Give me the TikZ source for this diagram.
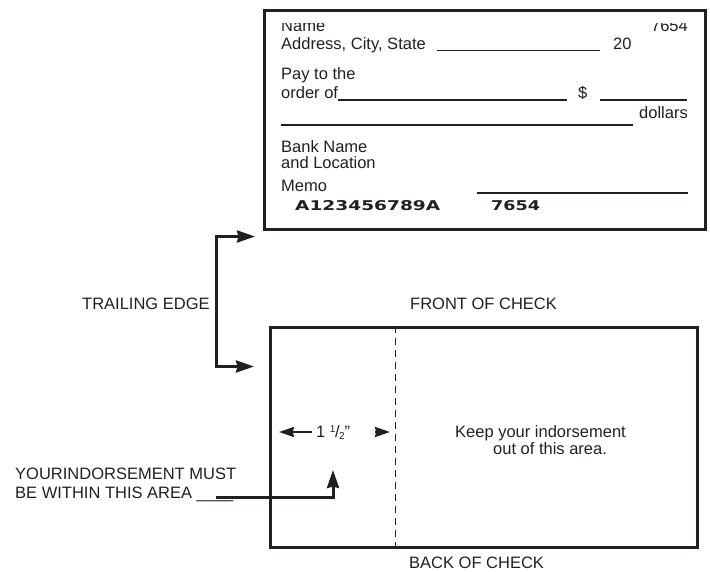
\documentclass[tikz,border=0pt]{standalone}
\usepackage{fontspec}
\setmainfont{Liberation Sans}
\newfontfamily\micrfont{DejaVu Sans}
\usetikzlibrary{arrows.meta}
\definecolor{ink}{HTML}{231F20}
\begin{document}
\begin{tikzpicture}[x=1pt,y=-1pt,
  txt/.style={inner sep=0pt, font=\fontsize{16.5}{18}\selectfont, text=ink},
  micr/.style={inner sep=0pt, text=ink, anchor=base west},
  checkbox/.style={draw=ink, line width=3pt, inner sep=0pt},
  rulerline/.style={draw=ink, line width=1.8pt},
  foldline/.style={draw=ink, line width=1.2pt, dash pattern=on 7pt off 5pt},
  bigtip/.tip={Stealth[length=18pt,width=12pt,inset=1.5pt]},
  smalltip/.tip={Stealth[length=15pt,width=10pt,inset=1.2pt]},
  conn/.style={draw=ink, line width=3pt, -bigtip},
  bothconn/.style={draw=ink, line width=3pt, bigtip-bigtip},
  dimarrow/.style={draw=ink, line width=2.2pt, -smalltip},
]
\useasboundingbox (0,0) rectangle (710,572);

% ---------- front of check ----------
\node[checkbox, minimum width=441pt, minimum height=219pt] (front) at (484.5,120.5) {};
\begin{scope}
  \clip (270,23.5) rectangle (700,45);
  \node[txt, anchor=base west] (name) at (281,31.7) {Name};
  \node[txt, anchor=base east] (num) at (688,31.7) {7654};
\end{scope}
\node[txt, anchor=base west] (addr) at (281,49.3) {Address, City, State};
\draw[rulerline] (437,50.5) -- (600,50.5);
\node[txt, anchor=base west] (year) at (613,49.3) {20};
\node[txt, anchor=base west] (pay) at (281,80) {Pay to the};
\node[txt, anchor=base west] (order) at (281,99) {order of};
\draw[rulerline] (order.base east) ++(0,1.2) -- (567,100.2);
\node[txt, anchor=base west] (dollar) at (578,99) {\$};
\draw[rulerline] (600,100.2) -- (687,100.2);
\node[txt, anchor=base east] (dollars) at (688,119) {dollars};
\draw[rulerline] (281,125) -- (633,125);
\node[txt, anchor=base west] (bank) at (281,152.7) {Bank Name};
\node[txt, anchor=base west] (loc) at (281,168.3) {and Location};
\node[txt, anchor=base west] (memo) at (281,191.7) {Memo};
\draw[rulerline] (477,193) -- (688,193);
\node[micr] (routing) at (295,210.7) {\resizebox{145pt}{10pt}{\micrfont\bfseries A123456789A}};
\node[micr] (checkno) at (491,210.7) {\resizebox{49pt}{10pt}{\micrfont\bfseries 7654}};

% ---------- labels between ----------
\node[txt, anchor=base west] (trailing) at (82,309) {TRAILING EDGE};
\node[txt, anchor=base west] (frontlbl) at (410,309) {FRONT OF CHECK};

\coordinate (t1) at (255,236.5);
\coordinate (t2) at (254,366.5);
\coordinate (tb) at (216,300);
\draw[bothconn] (t1) -| (tb) |- (t2);

% ---------- back of check ----------
\node[checkbox, minimum width=427pt, minimum height=220pt] (back) at (483.5,437) {};
\draw[foldline] ([xshift=127pt]back.north west) -- ([xshift=127pt]back.south west);

\node[txt, anchor=base west] (dim) at (316,437.5) {1 {\fontsize{10}{10}\selectfont\raisebox{5pt}{1}}\kern-0.5pt/\kern-0.5pt{\fontsize{10}{10}\selectfont\raisebox{-1.5pt}{2}}"};
\coordinate (dl) at (279,432);
\coordinate (dr0) at (375,432);
\coordinate (dr) at (390,432);
\draw[dimarrow] (312,432) -- (dl);
\draw[dimarrow] (dr0) -- (dr);

\node[txt, anchor=base west] (keep1) at (455,437.5) {Keep your indorsement};
\node[txt, anchor=base west] (keep2) at (493,454.5) {out of this area.};

\node[txt, anchor=base west] (end1) at (15,479) {YOURINDORSEMENT MUST};
\node[txt, anchor=base west] (end2) at (15,498) {BE WITHIN THIS AREA \_\_\_\_};
\coordinate (es) at (216,497);
\coordinate (et) at (333,470);
\draw[conn] (es) -| (et);

\node[txt, anchor=base west] (backlbl) at (409,568.5) {BACK OF CHECK};
\end{tikzpicture}
\end{document}
